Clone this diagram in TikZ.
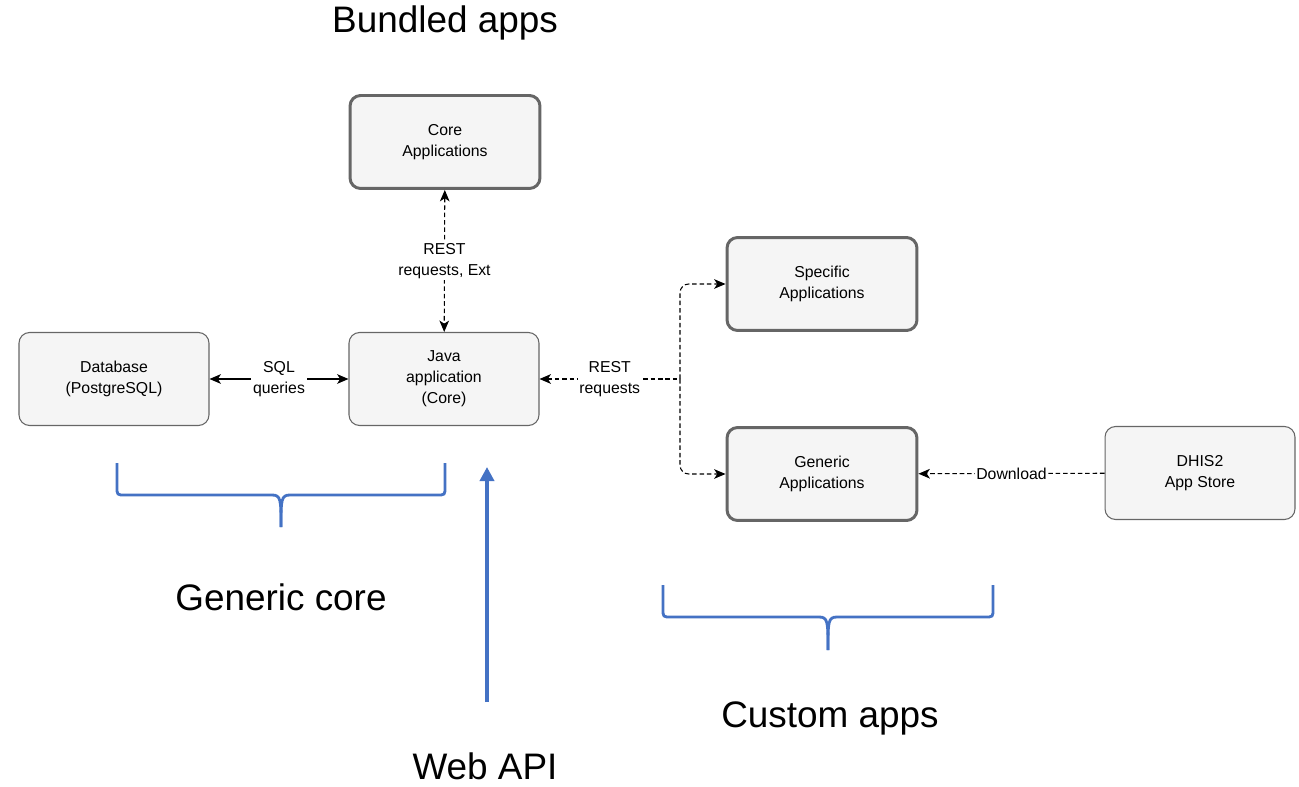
\documentclass[tikz,border=0pt]{standalone}
\usepackage{fontspec}
\setmainfont{Liberation Sans}
\usepackage{tikz}
\usetikzlibrary{arrows.meta,calc}
\definecolor{boxfill}{HTML}{F5F5F5}
\definecolor{boxline}{HTML}{666666}
\definecolor{braceblue}{HTML}{4472C4}
\tikzset{
    %Define style for boxes
    appbox/.style={
        rectangle,
        rounded corners=6pt,
        draw=boxline, line width=0.6pt,
        fill=boxfill,
        align=center,
        minimum width=3.8cm,
        minimum height=1.86cm,
        font=\fontsize{9}{11.9}\selectfont,
    },
    bundled/.style={
        appbox,
        line width=1.7pt,
    },
    lbl/.style={
        fill=white,
        align=center,
        inner sep=1pt,
        font=\fontsize{9}{11.9}\selectfont,
    },
    bigtxt/.style={
        draw = none,
        align = center,
        font = \fontsize{21}{25}\selectfont,
    },
    link/.style={
        line width=0.6pt,
        >={Stealth[length=6.5pt,width=5.5pt,inset=1.8pt]},
    },
    dlink/.style={
        link,
        dash pattern=on 2.6pt off 1.6pt,
    },
    brace/.style={
        draw=braceblue,
        line width=1.6pt,
    },
}
\begin{document}
\begin{tikzpicture}[x=0.02cm,y=-0.02cm]
		\useasboundingbox (0,0) rectangle (1299,787);

		\node[bundled] (core) at (445,142) {Core\\Applications};
		\node[appbox] (db) at (114,379) {Database\\(PostgreSQL)};
		\node[appbox] (java) at (444,379) {Java\\application\\(Core)};
		\node[bundled] (specific) at (822,284) {Specific\\Applications};
		\node[bundled] (generic) at (822,474) {Generic\\Applications};
		\node[appbox] (store) at (1200,473) {DHIS2\\App Store};
		\coordinate (split) at (680,379);

		\draw[link,<->] (db) -- node[lbl] {SQL\\queries} (java);
		\draw[dlink,<->] (core) -- node[lbl] {REST\\requests, Ext} (java);
		\draw[dlink,<-] (java) -- node[lbl] {REST\\requests} (split);
		\draw[dlink,->,rounded corners=5pt] (split) |- (specific);
		\draw[dlink,->,rounded corners=5pt] (split) |- (generic);
		\draw[dlink,->] (store) -- node[lbl] {Download} (generic);

		% braces
		\draw[brace] (117,463) -- (117,487) .. controls (117,495) .. (125,495) -- (272,495)
			.. controls (281,495) and (281,500) .. (281,527);
		\draw[brace] (445,463) -- (445,487) .. controls (445,495) .. (437,495) -- (290,495)
			.. controls (281,495) and (281,500) .. (281,527);
		\draw[brace] (663,585) -- (663,609) .. controls (663,617) .. (671,617) -- (819,617)
			.. controls (828,617) and (828,622) .. (828,650);
		\draw[brace] (993,585) -- (993,609) .. controls (993,617) .. (985,617) -- (837,617)
			.. controls (828,617) and (828,622) .. (828,650);

		\coordinate (apitail) at (487,702);
		\coordinate (apihead) at (487,467);
		\draw[draw=braceblue,line width=2.8pt,-{Triangle[length=8pt,width=8pt]}] (apitail) -- (apihead);

		\node[bigtxt] (bundledlbl) at (445,23) {Bundled apps};
		\node[bigtxt] (corelbl) at (281,597) {Generic core};
		\node[bigtxt] (customlbl) at (830,718) {Custom apps};
		\node[bigtxt] (apilbl) at (485,766) {Web API};
	\end{tikzpicture}
\end{document}
